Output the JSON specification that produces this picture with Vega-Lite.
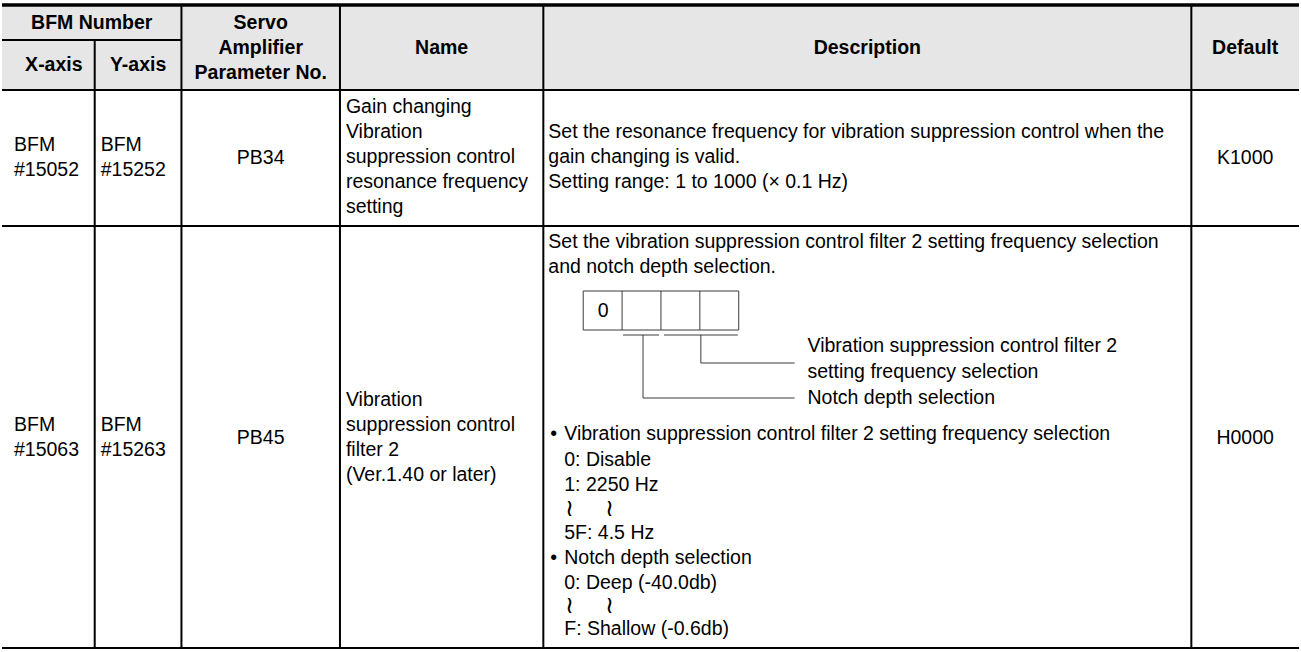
{
  "$schema": "https://vega.github.io/schema/vega-lite/v6.json",
  "width": 1301,
  "height": 652,
  "padding": 0,
  "autosize": {"type": "fit", "contains": "padding"},
  "background": "#ffffff",
  "config": {"view": {"stroke": null}},
  "datasets": {
    "fills": [
      {"x": 0, "x2": 1301, "y": 5, "y2": 90}
    ],
    "lines": [
      {"kind": "top", "x": 0, "x2": 1301, "y": 5, "y2": 5},
      {"kind": "grid", "x": 0, "x2": 180, "y": 40, "y2": 40},
      {"kind": "grid", "x": 0, "x2": 1301, "y": 90, "y2": 90},
      {"kind": "grid", "x": 0, "x2": 1301, "y": 226, "y2": 226},
      {"kind": "grid", "x": 0, "x2": 1301, "y": 648, "y2": 648},
      {"kind": "grid", "x": 93, "x2": 93, "y": 40, "y2": 648},
      {"kind": "grid", "x": 180, "x2": 180, "y": 5, "y2": 648},
      {"kind": "grid", "x": 339, "x2": 339, "y": 5, "y2": 648},
      {"kind": "grid", "x": 543, "x2": 543, "y": 5, "y2": 648},
      {"kind": "grid", "x": 1193, "x2": 1193, "y": 5, "y2": 648},
      {"kind": "diagram", "x": 583, "x2": 739, "y": 291, "y2": 291},
      {"kind": "diagram", "x": 583, "x2": 739, "y": 330, "y2": 330},
      {"kind": "diagram", "x": 583, "x2": 583, "y": 291, "y2": 330},
      {"kind": "diagram", "x": 622, "x2": 622, "y": 291, "y2": 330},
      {"kind": "diagram", "x": 661, "x2": 661, "y": 291, "y2": 330},
      {"kind": "diagram", "x": 700, "x2": 700, "y": 291, "y2": 330},
      {"kind": "diagram", "x": 739, "x2": 739, "y": 291, "y2": 330},
      {"kind": "diagram", "x": 623, "x2": 659, "y": 335, "y2": 335},
      {"kind": "diagram", "x": 664, "x2": 738, "y": 335, "y2": 335},
      {"kind": "diagram", "x": 701, "x2": 701, "y": 335, "y2": 363},
      {"kind": "diagram", "x": 701, "x2": 795, "y": 363, "y2": 363},
      {"kind": "diagram", "x": 643, "x2": 643, "y": 335, "y2": 398},
      {"kind": "diagram", "x": 643, "x2": 795, "y": 398, "y2": 398}
    ],
    "texts": [
      {"role": "head", "t": "BFM Number", "x": 90, "y": 22.5},
      {"role": "head", "t": "X-axis", "x": 52, "y": 65},
      {"role": "head", "t": "Y-axis", "x": 136.5, "y": 65},
      {"role": "head", "t": "Servo", "x": 259.5, "y": 22.5},
      {"role": "head", "t": "Amplifier", "x": 259.5, "y": 47.5},
      {"role": "head", "t": "Parameter No.", "x": 259.5, "y": 72.5},
      {"role": "head", "t": "Name", "x": 441, "y": 47.5},
      {"role": "head", "t": "Description", "x": 868, "y": 47.5},
      {"role": "head", "t": "Default", "x": 1247, "y": 47.5},

      {"role": "left", "t": "BFM", "x": 12, "y": 145},
      {"role": "left", "t": "#15052", "x": 12, "y": 170},
      {"role": "left", "t": "BFM", "x": 99, "y": 145},
      {"role": "left", "t": "#15252", "x": 99, "y": 170},
      {"role": "center", "t": "PB34", "x": 259.5, "y": 157.5},
      {"role": "left", "t": "Gain changing", "x": 345, "y": 107},
      {"role": "left", "t": "Vibration", "x": 345, "y": 132},
      {"role": "left", "t": "suppression control", "x": 345, "y": 157},
      {"role": "left", "t": "resonance frequency", "x": 345, "y": 182},
      {"role": "left", "t": "setting", "x": 345, "y": 207},
      {"role": "left", "t": "Set the resonance frequency for vibration suppression control when the", "x": 548, "y": 132},
      {"role": "left", "t": "gain changing is valid.", "x": 548, "y": 157},
      {"role": "left", "t": "Setting range: 1 to 1000 (× 0.1 Hz)", "x": 548, "y": 182},
      {"role": "center", "t": "K1000", "x": 1247, "y": 157.5},

      {"role": "left", "t": "BFM", "x": 12, "y": 425},
      {"role": "left", "t": "#15063", "x": 12, "y": 450},
      {"role": "left", "t": "BFM", "x": 99, "y": 425},
      {"role": "left", "t": "#15263", "x": 99, "y": 450},
      {"role": "center", "t": "PB45", "x": 259.5, "y": 437.5},
      {"role": "left", "t": "Vibration", "x": 345, "y": 400},
      {"role": "left", "t": "suppression control", "x": 345, "y": 425},
      {"role": "left", "t": "filter 2", "x": 345, "y": 450},
      {"role": "left", "t": "(Ver.1.40 or later)", "x": 345, "y": 475},
      {"role": "left", "t": "Set the vibration suppression control filter 2 setting frequency selection", "x": 548, "y": 242},
      {"role": "left", "t": "and notch depth selection.", "x": 548, "y": 267},
      {"role": "center", "t": "0", "x": 603, "y": 310.5},
      {"role": "left", "t": "Vibration suppression control filter 2", "x": 808, "y": 346},
      {"role": "left", "t": "setting frequency selection", "x": 808, "y": 372},
      {"role": "left", "t": "Notch depth selection", "x": 808, "y": 398},
      {"role": "left", "t": "•", "x": 550, "y": 434},
      {"role": "left", "t": "Vibration suppression control filter 2 setting frequency selection", "x": 564, "y": 434},
      {"role": "left", "t": "0: Disable", "x": 564, "y": 460},
      {"role": "left", "t": "1: 2250 Hz", "x": 564, "y": 485},
      {"role": "wave", "t": "≀", "x": 569, "y": 509},
      {"role": "wave", "t": "≀", "x": 609, "y": 509},
      {"role": "left", "t": "5F: 4.5 Hz", "x": 564, "y": 533},
      {"role": "left", "t": "•", "x": 550, "y": 558},
      {"role": "left", "t": "Notch depth selection", "x": 564, "y": 558},
      {"role": "left", "t": "0: Deep (-40.0db)", "x": 564, "y": 583},
      {"role": "wave", "t": "≀", "x": 569, "y": 606},
      {"role": "wave", "t": "≀", "x": 609, "y": 606},
      {"role": "left", "t": "F: Shallow (-0.6db)", "x": 564, "y": 629},
      {"role": "center", "t": "H0000", "x": 1247, "y": 437.5}
    ]
  },
  "encoding": {
    "x": {"field": "x", "type": "quantitative", "scale": {"domain": [0, 1301], "nice": false, "zero": false}, "axis": null},
    "y": {"field": "y", "type": "quantitative", "scale": {"domain": [652, 0], "nice": false, "zero": false}, "axis": null}
  },
  "layer": [
    {
      "data": {"name": "fills"},
      "mark": {"type": "rect", "color": "#e6e6e6"},
      "encoding": {
        "x2": {"field": "x2"},
        "y2": {"field": "y2"}
      }
    },
    {
      "data": {"name": "lines"},
      "transform": [{"filter": "datum.kind === 'grid'"}],
      "mark": {"type": "rule", "color": "#000000", "strokeWidth": 2},
      "encoding": {
        "x2": {"field": "x2"},
        "y2": {"field": "y2"}
      }
    },
    {
      "data": {"name": "lines"},
      "transform": [{"filter": "datum.kind === 'top'"}],
      "mark": {"type": "rule", "color": "#000000", "strokeWidth": 3.5},
      "encoding": {
        "x2": {"field": "x2"},
        "y2": {"field": "y2"}
      }
    },
    {
      "data": {"name": "lines"},
      "transform": [{"filter": "datum.kind === 'diagram'"}],
      "mark": {"type": "rule", "color": "#3a3a3a", "strokeWidth": 1},
      "encoding": {
        "x2": {"field": "x2"},
        "y2": {"field": "y2"}
      }
    },
    {
      "data": {"name": "texts"},
      "transform": [{"filter": "datum.role === 'head'"}],
      "mark": {"type": "text", "font": "Liberation Sans", "fontSize": 19.5, "fontWeight": "bold", "align": "center", "baseline": "middle", "color": "#000000"},
      "encoding": {"text": {"field": "t"}}
    },
    {
      "data": {"name": "texts"},
      "transform": [{"filter": "datum.role === 'left'"}],
      "mark": {"type": "text", "font": "Liberation Sans", "fontSize": 19.5, "align": "left", "baseline": "middle", "color": "#000000"},
      "encoding": {"text": {"field": "t"}}
    },
    {
      "data": {"name": "texts"},
      "transform": [{"filter": "datum.role === 'wave'"}],
      "mark": {"type": "text", "font": "DejaVu Sans", "fontSize": 24, "fontWeight": 200, "align": "center", "baseline": "middle", "color": "#000000"},
      "encoding": {"text": {"field": "t"}}
    },
    {
      "data": {"name": "texts"},
      "transform": [{"filter": "datum.role === 'center'"}],
      "mark": {"type": "text", "font": "Liberation Sans", "fontSize": 19.5, "align": "center", "baseline": "middle", "color": "#000000"},
      "encoding": {"text": {"field": "t"}}
    }
  ]
}
